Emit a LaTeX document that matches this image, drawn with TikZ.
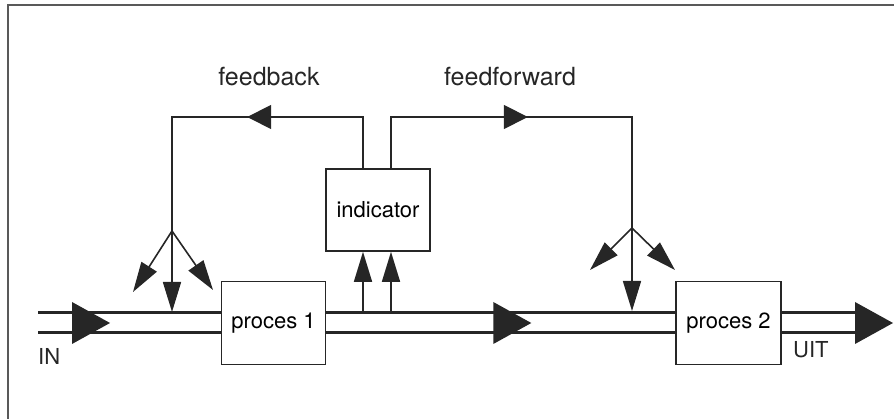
\documentclass[tikz,border=0pt]{standalone}
\usepackage{fontspec}
\setmainfont{TeX Gyre Heros}
\usetikzlibrary{arrows.meta,decorations.markings}
\tikzset{
  box/.style={draw=black!85,line width=1.6pt,fill=white,minimum width=104pt,
    minimum height=83pt,inner sep=0pt,font=\fontsize{22}{24}\selectfont},
  wire/.style={draw=black!85,line width=1.6pt},
  head/.style={-{Triangle[length=30pt,width=18pt]}},
  stream/.style={draw=black!85,line width=3pt,double=white,double distance=17pt},
  flowmark/.style={postaction={decorate,decoration={markings,
    mark=at position #1 with {\fill[black!85] (0,-21) -- (38,0) -- (0,21) -- cycle;}}}},
  wiremark/.style={postaction={decorate,decoration={markings,
    mark=at position #1 with {\arrow[black!85]{Triangle[length=24pt,width=24pt]}}}}},
  tag/.style={font=\fontsize{25}{27}\selectfont,text=black!85},
  iotag/.style={font=\fontsize{22}{24}\selectfont,text=black!85,anchor=base west,inner sep=0pt},
}
\begin{document}
\begin{tikzpicture}[x=1pt,y=1pt]
  \useasboundingbox (0,0) rectangle (894,419);
  \draw[black!65,line width=2pt] (8,0) -- (8,414) -- (894,414);
  % blocks
  \path (273.5,96) node[box] (p1) {proces 1};
  \path (378,209) node[box,minimum height=82pt] (ind) {indicator};
  \path (728.5,96) node[box,minimum width=105pt] (p2) {proces 2};
  % free ends
  \coordinate (in) at (38,96);
  \coordinate (out) at (855,96);
  \coordinate (s1) at (363,106);
  \coordinate (s2) at (391,106);
  \coordinate (fb) at (172,302);
  \coordinate (ff) at (632,302);
  \coordinate (fbsplit) at (172,188);
  \coordinate (ffsplit) at (632,191);
  \coordinate (fbin) at (172,107);
  \coordinate (ffin) at (632,108);
  \coordinate (fbl) at (133,127);
  \coordinate (fbr) at (213,129);
  \coordinate (ffl) at (590,149);
  \coordinate (ffr) at (675,149);
  % main stream
  \draw[stream,flowmark=34pt] (in) -- (p1);
  \draw[stream,flowmark=167pt] (p1) -- (p2);
  \draw[stream,flowmark=1] (p2) -- (out);
  % indicator
  \draw[wire,head] (s1) -- (s1 |- ind.south);
  \draw[wire,head] (s2) -- (s2 |- ind.south);
  \draw[wire,wiremark=167pt] (ind.north -| s1) |- (fb) -- (fbsplit);
  \draw[wire,wiremark=188pt] (ind.north -| s2) |- (ff) -- (ffsplit);
  % branches
  \draw[wire,head] (fbsplit) -- (fbin);
  \draw[wire,head] (fbsplit) -- (fbl);
  \draw[wire,head] (fbsplit) -- (fbr);
  \draw[wire,head] (ffsplit) -- (ffin);
  \draw[wire,head] (ffsplit) -- (ffl);
  \draw[wire,head] (ffsplit) -- (ffr);
  % texts
  \node[tag] (fbtext) at (269,342) {feedback};
  \node[tag] (fftext) at (510,342) {feedforward};
  \node[iotag] (intext) at (38,54) {IN};
  \node[iotag] (uittext) at (793,61) {UIT};
\end{tikzpicture}
\end{document}
